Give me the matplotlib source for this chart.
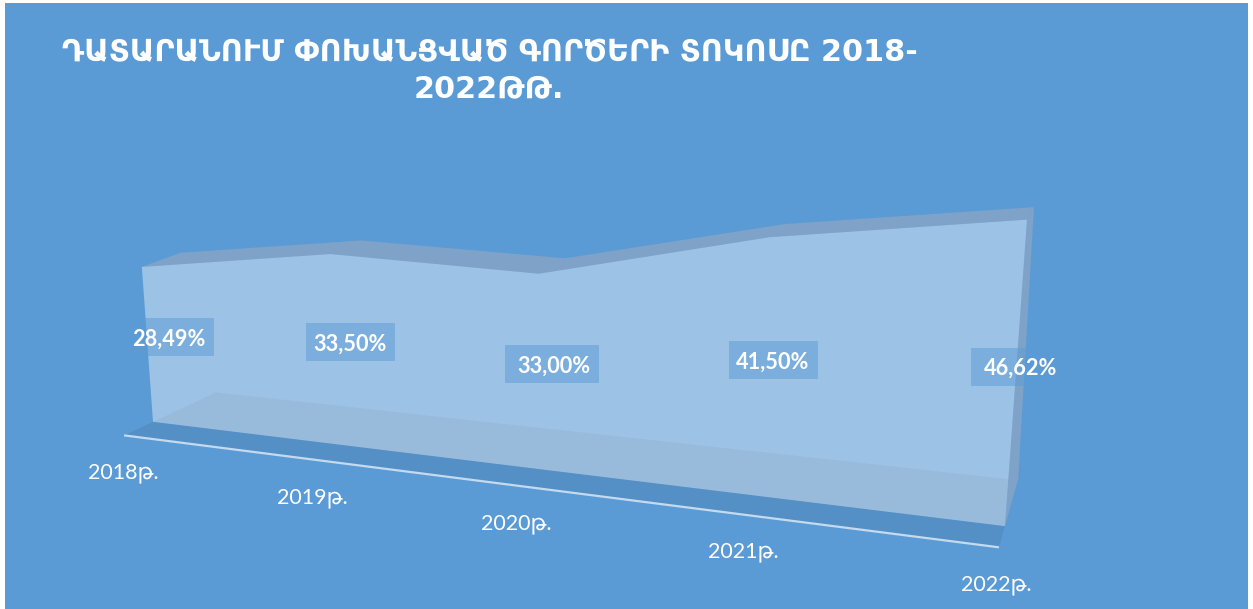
import numpy as np
import matplotlib
matplotlib.use("Agg")
import matplotlib.pyplot as plt
from matplotlib.patches import Rectangle

# ---- data ----
years = ["2018թ.", "2019թ.", "2020թ.", "2021թ.", "2022թ."]
values = [28.49, 33.50, 33.00, 41.50, 46.62]
value_labels = ["28,49%", "33,50%", "33,00%", "41,50%", "46,62%"]
title_lines = ["ԴԱՏԱՐԱՆՈՒՄ ՓՈԽԱՆՑՎԱԾ ԳՈՐԾԵՐԻ ՏՈԿՈՍԸ 2018-", "2022ԹԹ."]

# ---- 3-D view calibration (canvas pixels of the chart's projection) ----
W, H = 1253, 609
front_top = [(142, 267), (330, 253), (538, 273), (770, 237), (1027, 220)]
back_top = [(180, 254), (362, 241), (565, 259), (790, 224), (1033, 206)]
front_base = [(153, 422), (1005, 526)]
back_base = [(216, 391), (1018, 481)]
AXIS_DEPTH = -0.46


def fit_homography(src, dst):
    rows = []
    for (x, y), (u, v) in zip(src, dst):
        rows.append([x, y, 1, 0, 0, 0, -u * x, -u * y, -u])
        rows.append([0, 0, 0, x, y, 1, -v * x, -v * y, -v])
    return np.linalg.svd(np.array(rows, float))[2][-1].reshape(3, 3)


xs = np.arange(len(values), dtype=float)
vals = np.array(values)
tops = [(x / 4, v / 50) for x, v in zip(xs, vals)]
# the corners count for more than the mid points in the fit
src = tops + [(0, 0), (1, 0)] + [tops[0], tops[-1], (0, 0), (1, 0)] * 3
H_front = fit_homography(src, front_top + front_base
                         + [front_top[0], front_top[-1], front_base[0], front_base[1]] * 3)
H_back = fit_homography(src, back_top + back_base
                        + [back_top[0], back_top[-1], back_base[0], back_base[1]] * 3)


def project(x, v, depth=0.0):
    x = np.atleast_1d(np.asarray(x, float)) / 4
    v = np.atleast_1d(np.asarray(v, float)) / 50
    if v.size == 1:
        v = np.full_like(x, v[0])
    if x.size == 1:
        x = np.full_like(v, x[0])
    p = np.stack([x, v, np.ones_like(x)])
    f = H_front @ p
    b = H_back @ p
    f = f[:2] / f[2]
    b = b[:2] / b[2]
    return f + depth * (b - f)


# ---- styles ----
BG = "#5B9BD5"
TOP = "#7FA3C8"

fig = plt.figure(figsize=(W / 100, H / 100), dpi=100, facecolor="white")
ax = fig.add_axes([0, 0, 1, 1])
ax.set_xlim(0, W)
ax.set_ylim(H, 0)
ax.axis("off")
ax.add_patch(Rectangle((5, 3), W - 10, H - 3, facecolor=BG, edgecolor="none", zorder=0))

# floor
last = xs[-1]
a = project([0, last], 0, AXIS_DEPTH)
b = project([0, last], 0, 1.0)
ax.fill([a[0][0], a[0][1], b[0][1], b[0][0]], [a[1][0], a[1][1], b[1][1], b[1][0]],
        color="#000000", alpha=0.075, lw=0, zorder=1)

# top band
ft = project(xs, vals, 0)
bt = project(xs, vals, 1)
ax.fill(np.r_[ft[0], bt[0][::-1]], np.r_[ft[1], bt[1][::-1]], color=TOP, lw=0, zorder=2)

# right side band
fb = project(last, 0, 0)
bb = project(last, 0, 1)
ax.fill([ft[0][-1], bt[0][-1], bb[0][0], fb[0][0]], [ft[1][-1], bt[1][-1], bb[1][0], fb[1][0]],
        color=TOP, lw=0, zorder=2)

# front face
f0 = project(0, 0, 0)
ax.fill(np.r_[ft[0], fb[0], f0[0]], np.r_[ft[1], fb[1], f0[1]],
        color="white", alpha=0.4, lw=0, zorder=3)

# category axis line
ax.plot(a[0], a[1], color="#C4DAEF", lw=1.6, solid_capstyle="butt", zorder=4)

# tick labels
tick_px = [(123.5, 473), (312, 498), (516, 524), (743, 552), (996, 585)]
for (px, py), s in zip(tick_px, years):
    ax.text(px, py, s, color="white", fontsize=15.5, ha="center", va="center",
            family=["Lato", "DejaVu Sans"], zorder=6)

# value labels
label_px = [(169, 339), (350, 344), (554, 366), (773, 362), (1020.5, 368)]
box_px = [(169, 337), (350.5, 342), (552, 364), (773.5, 360), (1020.5, 367)]
box_w = [90, 89, 94, 89, 99]
for (bx, by), (px, py), s, w in zip(box_px, label_px, value_labels, box_w):
    ax.add_patch(Rectangle((bx - w / 2, by - 19), w, 38, facecolor=BG, alpha=0.5,
                           edgecolor="none", zorder=5))
    ax.text(px, py, s, color="white", fontsize=15.7, fontweight="bold", ha="center",
            va="center", family=["Lato", "DejaVu Sans"], zorder=6)

# title
ax.text(490, 53, title_lines[0], color="white", fontsize=21.8, fontweight="bold",
        ha="center", va="center", family=["DejaVu Sans"], zorder=6)
ax.text(489, 89, title_lines[1], color="white", fontsize=21.8, fontweight="bold",
        ha="center", va="center", family=["DejaVu Sans"], zorder=6)

fig.savefig("out.png", dpi=100)
